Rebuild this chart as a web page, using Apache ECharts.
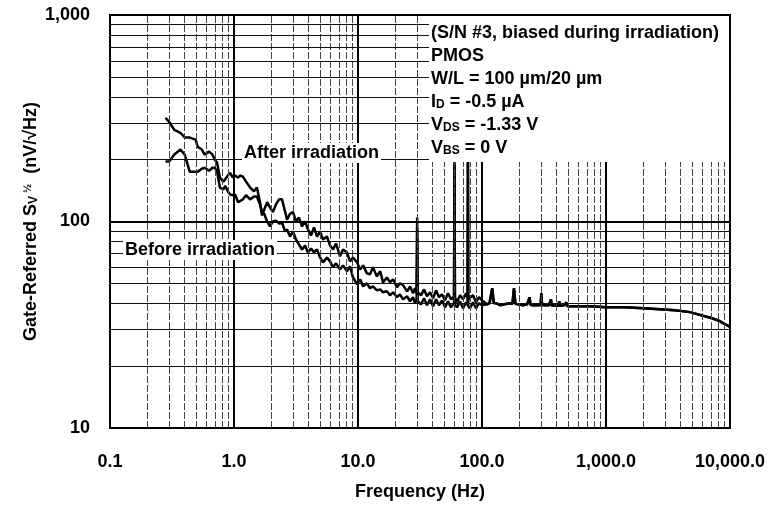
<!DOCTYPE html>
<html><head><meta charset="utf-8">
<script src="https://cdn.jsdelivr.net/npm/echarts/dist/echarts.min.js"></script>
<style>html,body{margin:0;padding:0;background:#fff}#c{width:770px;height:506px}</style>
</head><body><div id="c"></div>
<script>
// ---- data ----
const freqLow = [0.28,0.30,0.33,0.37,0.40,0.44,0.49,0.51,0.55,0.58,0.63,0.67,0.70,0.73,0.77,0.82,0.85,0.89,0.93,0.98,
  1.02,1.08,1.12,1.18,1.25,1.35,1.45,1.53,1.62,1.68,1.75,1.85,1.95,2.06,2.18,2.31,2.44,2.58,2.68,2.83,
  2.99,3.16,3.34,3.54,3.74,3.95,4.18,4.42,4.67,4.94,5.22,5.62,5.95,6.29,6.65,7.16,7.57,8.15,8.62,9.11,
  9.82,10.4,11.0,11.8,12.5,13.2,14.2,15.1,15.9,17.1,18.1,19.2,20.6,21.8,23.1,24.9,26.3,27.8,28.8,29.7,
  30.0,30.3,31.1,32.2,34.1,36.0,38.1,40.3,42.6,45.0,47.6,50.3,53.2,56.2,59.5,60.0,60.5,62.9,66.5,70.3,
  74.3,76.5,77.0,77.5,80.0,84.6,89.5,94.6,100];
const afterLow = [318,304,278,269,255,255,249,230,223,211,218,211,199,193,163,156,160,167,172,163,
  167,163,167,165,156,146,140,146,124,107,114,124,117,111,121,128,128,112,102,109,
  111,100,104.5,94.6,100,91.5,85.6,93.6,84.6,89.5,81.8,84.6,76.6,73.2,78.3,67.8,73.2,70.8,64.1,67.0,
  63.4,58.6,61.3,56.1,55.5,60.0,54.2,57.4,50.7,53.6,50.7,52.5,48.0,50.2,49.1,45.9,48.5,44.9,47.5,45.0,
  104.5,45.5,45.9,43.9,46.9,43.4,45.4,42.5,46.4,43.0,44.4,41.5,44.9,42.0,43.4,199,43.0,40.6,43.9,42.0,
  44.9,42.5,199,42.0,41.1,43.9,40.6,43.0,41.5];
const beforeLow = [195,195,211,223,211,174,174,174,180,182,176,182,182,174,146,143,149,140,135,134,
  135,124,126,128,134,128,132,132,121,112,109,100,94.6,100,101,97.8,98.9,89.5,91.5,84.6,
  89.5,81.8,77.4,73.2,76.6,70.8,74.1,70.8,73.2,67.0,63.4,67.0,64.1,60.0,62.7,58.6,61.3,57.4,60.6,53.6,
  49.6,52.5,48.5,50.2,47.5,48.5,46.4,46.9,45.4,45.9,43.9,45.4,43.0,44.4,42.0,43.4,41.1,43.0,40.2,42.0,
  93.6,41.1,42.0,39.7,42.5,39.3,42.0,38.9,42.0,39.3,41.5,38.4,41.1,38.4,40.2,190,39.7,38.4,41.1,38.0,
  40.6,39.3,195,38.9,38.0,40.6,38.0,40.2,39.3];
const freqTail = [110,115,117.5,121,124.5,130,140,151,168,176,181,186,195,214,231,238,242,246,258,278,
  297,301,305,322,347,356,360,364,388,414,419,424,458,475,480,485,512,562,617,743,
  1000,1420,2000,2720,3600,4760,6000,7160,8300,8790,10000];
const tailValues = [39.7,40.2,40.0,47.5,40.3,40.2,39.3,39.7,40.2,40.0,47.5,40.0,39.7,39.3,39.7,39.4,42.9,39.5,39.3,39.3,
  39.4,44.9,39.4,39.3,39.3,39.3,42.0,39.2,39.3,39.1,41.1,39.1,39.3,39.0,40.6,39.0,38.9,38.9,38.9,38.9,
  38.4,38.4,38.0,37.6,37.2,36.4,35.0,34.0,32.9,32.2,30.9];
const xTickLabels = ['0.1','1.0','10.0','100.0','1,000.0','10,000.0'];
const yTickLabels = ['10','100','1,000'];
const minorSteps = [2,3,4,5,6,7,8,9];
const xDecades = [0.1,1,10,100,1000];
const yDecades = [10,100];
const infoLines = ['(S/N #3, biased during irradiation)','PMOS','{b|W/L = 100 µm/20 µm}','{b|I}{s|D}{b| = -0.5 µA}','{b|V}{s|DS}{b| = -1.33 V}','{b|V}{s|BS}{b| = 0 V}'];

// ---- build ----
const FONT = '"Liberation Sans", Arial, Helvetica, sans-serif';
function pairs(f, v){ return f.map((x,i)=>[x, v[i]]); }
const afterData = pairs(freqLow, afterLow).concat(pairs(freqTail, tailValues));
const beforeData = pairs(freqLow, beforeLow).concat(pairs(freqTail, tailValues));

const gridLines = [];
xDecades.forEach(d => minorSteps.forEach(m => gridLines.push({xAxis: d*m, lineStyle:{color:'#444', width:1, type:[7,2]}})));
yDecades.forEach(d => minorSteps.forEach(m => gridLines.push({yAxis: d*m, lineStyle:{color:'#111', width:1, type:'solid'}})));

const rich = {
  b:{fontSize:18, fontWeight:'bold', fontFamily:FONT, fill:'#000', color:'#000'},
  s:{fontSize:12, fontWeight:'bold', fontFamily:FONT, fill:'#000', color:'#000', verticalAlign:'bottom'}
};
const graphics = [{type:'rect', z:50, shape:{x:429, y:16, width:300, height:146}, style:{fill:'#fff'}}];
infoLines.forEach((t,i) => {
  const plain = t.indexOf('{') < 0;
  graphics.push({type:'text', z:60, x:431, y:33 + 23*i, style:{
    text: plain ? '{b|' + t + '}' : t, rich: rich, verticalAlign:'middle', fill:'#000',
    font: 'bold 18px ' + FONT}});
});
graphics.push({type:'text', z:60, x:242, y:153, style:{text:'After irradiation', font:'bold 18px '+FONT, fill:'#000', verticalAlign:'middle', backgroundColor:'#fff', padding:[1,2]}});
graphics.push({type:'text', z:60, x:123, y:250, style:{text:'Before irradiation', font:'bold 18px '+FONT, fill:'#000', verticalAlign:'middle', backgroundColor:'#fff', padding:[1,2]}});

const chart = echarts.init(document.getElementById('c'), null, {renderer:'canvas'});
chart.setOption({
  animation:false,
  backgroundColor:'#fff',
  grid:{left:110, right:40, top:15, bottom:77, show:true, borderColor:'#000', borderWidth:2, backgroundColor:'transparent'},
  xAxis:{type:'log', logBase:10, min:0.1, max:10000, splitNumber:5,
    name:'Frequency (Hz)', nameLocation:'middle', nameGap:55,
    nameTextStyle:{fontSize:18, fontWeight:'bold', color:'#000', fontFamily:FONT},
    axisLine:{show:true, lineStyle:{color:'#000', width:2}},
    axisTick:{show:false}, minorTick:{show:false},
    axisLabel:{margin:25, fontSize:18, fontWeight:'bold', color:'#000', fontFamily:FONT,
      formatter: v => { const i = Math.round(Math.log10(v)) + 1; return xTickLabels[i] || ''; }},
    splitLine:{show:true, lineStyle:{color:'#000', width:2}}},
  yAxis:{type:'log', logBase:10, min:10, max:1000, splitNumber:2,
    name:'Gate-Referred S{s|V}{p|½}  (nV/√Hz)', nameLocation:'middle', nameGap:70, nameRotate:90,
    nameMoveOverlap:false,
    nameTextStyle:{fontSize:18, fontWeight:'bold', color:'#000', fontFamily:FONT,
      rich:{s:{fontSize:12, fontWeight:'bold', fontFamily:FONT, color:'#000', verticalAlign:'bottom'},
            p:{fontSize:11, fontWeight:'bold', fontFamily:FONT, color:'#000', verticalAlign:'top', padding:[0,0,0,3]}}},
    axisLine:{show:true, lineStyle:{color:'#000', width:2}},
    axisTick:{show:false}, minorTick:{show:false},
    axisLabel:{margin:20, fontSize:18, fontWeight:'bold', color:'#000', fontFamily:FONT,
      formatter: v => { const i = Math.round(Math.log10(v)) - 1; return yTickLabels[i] || ''; }},
    splitLine:{show:true, lineStyle:{color:'#000', width:2}}},
  graphic: graphics,
  series:[
    {type:'line', data:[], z:1, silent:true,
     markLine:{silent:true, symbol:['none','none'], label:{show:false}, animation:false, data:gridLines}},
    {name:'Before irradiation', type:'line', data:beforeData, showSymbol:false, symbol:'none', z:3,
     lineStyle:{color:'#000', width:2.5}},
    {name:'After irradiation', type:'line', data:afterData, showSymbol:false, symbol:'none', z:3,
     lineStyle:{color:'#000', width:2.5}}
  ]
});
</script>
</body></html>
